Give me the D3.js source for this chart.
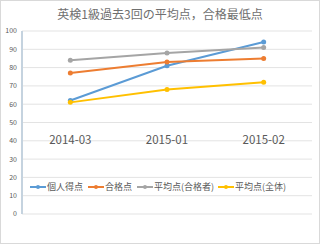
<!DOCTYPE html>
<html>
<head>
<meta charset="utf-8">
<script src="https://cdn.jsdelivr.net/npm/d3@7"></script>
<style>
  body { margin: 0; background: #fff; }
  text { font-family: "Noto Sans CJK JP", "Noto Sans", sans-serif; }
</style>
</head>
<body>
<svg id="chart" width="320" height="244"></svg>
<script>
var categories = ['2014-03', '2015-01', '2015-02'];
var seriesNames = ['個人得点', '合格点', '平均点(合格者)', '平均点(全体)'];
var personal = [62, 81, 94];
var passing = [77, 83, 85];
var avgPassed = [84, 88, 91];
var avgAll = [61, 68, 72];
var yTicks = [0, 10, 20, 30, 40, 50, 60, 70, 80, 90, 100];
var title = '英検1級過去3回の平均点，合格最低点';

var colors = ['#5b9bd5', '#ed7d31', '#a5a5a5', '#ffc000'];
var series = [personal, passing, avgPassed, avgAll];

var svg = d3.select('#chart'),
    margin = {top: 31, right: 8, bottom: 30, left: 22},
    width = +svg.attr('width') - margin.left - margin.right,
    height = +svg.attr('height') - margin.top - margin.bottom;

// outer frame
svg.append('rect')
    .attr('x', 0.5).attr('y', 0.5)
    .attr('width', 319).attr('height', 243)
    .attr('fill', '#fff').attr('stroke', '#d9d9d9');

svg.append('text')
    .attr('x', 160).attr('y', 19)
    .attr('text-anchor', 'middle')
    .attr('font-size', 12)
    .attr('fill', '#6f6f6f')
    .text(title);

var g = svg.append('g')
    .attr('transform', 'translate(' + margin.left + ',' + margin.top + ')');

var x = d3.scalePoint().domain(categories).range([0, width]).padding(0.5),
    y = d3.scaleLinear().domain([0, 100]).range([height, 0]);

// gridlines
g.selectAll('.grid')
    .data(yTicks)
    .enter().append('line')
    .attr('x1', 0).attr('x2', width)
    .attr('y1', function(d) { return y(d); })
    .attr('y2', function(d) { return y(d); })
    .attr('stroke', '#e3e3e3').attr('stroke-width', 1);

// y labels
g.selectAll('.ylab')
    .data(yTicks)
    .enter().append('text')
    .attr('x', -5)
    .attr('y', function(d) { return y(d); })
    .attr('dy', '0.35em')
    .attr('text-anchor', 'end')
    .attr('font-size', 7)
    .attr('fill', '#595959')
    .text(function(d) { return d; });

// vertical axis line
g.append('line')
    .attr('x1', 0).attr('x2', 0)
    .attr('y1', y(100)).attr('y2', height)
    .attr('stroke', '#c5d3df').attr('stroke-width', 2);

// category labels sit inside the plot
g.selectAll('.xlab')
    .data(categories)
    .enter().append('text')
    .attr('x', function(d) { return x(d); })
    .attr('y', y(40) + 3)
    .attr('text-anchor', 'middle')
    .attr('font-size', 11.5)
    .attr('fill', '#595959')
    .text(function(d) { return d; });

var line = d3.line()
    .x(function(d, i) { return x(categories[i]); })
    .y(function(d) { return y(d); });

series.forEach(function(s, k) {
    g.append('path')
        .datum(s)
        .attr('fill', 'none')
        .attr('stroke', colors[k])
        .attr('stroke-width', 2)
        .attr('d', line);
    g.selectAll('.pt' + k)
        .data(s)
        .enter().append('circle')
        .attr('cx', function(d, i) { return x(categories[i]); })
        .attr('cy', function(d) { return y(d); })
        .attr('r', 2.5)
        .attr('fill', colors[k]);
});

// legend
var legendX = [30, 88, 137, 218];
var legend = svg.selectAll('.legend')
    .data(seriesNames)
    .enter().append('g')
    .attr('transform', function(d, i) { return 'translate(' + legendX[i] + ',187)'; });

legend.append('line')
    .attr('x1', 0).attr('x2', 16)
    .attr('stroke', function(d, i) { return colors[i]; })
    .attr('stroke-width', 2);
legend.append('circle')
    .attr('cx', 8).attr('r', 2)
    .attr('fill', function(d, i) { return colors[i]; });
legend.append('text')
    .attr('x', 17)
    .attr('dy', '0.35em')
    .attr('font-size', 9)
    .attr('fill', '#595959')
    .text(function(d) { return d; });
</script>
</body>
</html>
